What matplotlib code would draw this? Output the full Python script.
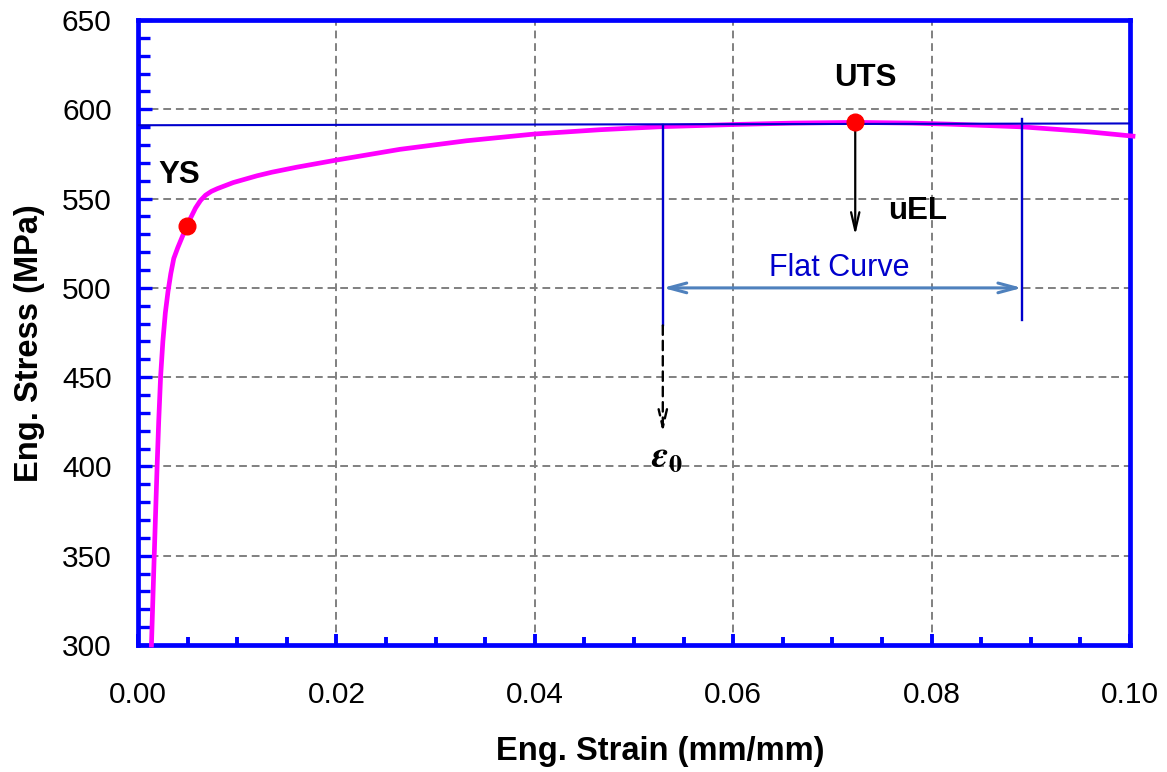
import matplotlib.pyplot as plt
from matplotlib.ticker import MultipleLocator

plt.rcParams['font.family'] = ['Liberation Sans', 'DejaVu Sans']
plt.rcParams['mathtext.fontset'] = 'stix'

# engineering stress-strain curve
STRAIN = [0.00135, 0.00163, 0.00192, 0.00208, 0.00227, 0.00250, 0.00275,
          0.00302, 0.0033, 0.0036, 0.0040, 0.0045, 0.0049, 0.0053, 0.0058,
          0.0063, 0.0068, 0.0074, 0.0080, 0.0088, 0.0096, 0.0120, 0.0135,
          0.016, 0.020, 0.0264, 0.0331, 0.040, 0.0466, 0.0528, 0.060,
          0.066, 0.0723, 0.078, 0.0819, 0.0891, 0.0953, 0.1003]
STRESS = [300, 350, 400, 425, 450, 470, 486,
          498, 508, 516.5, 522.5, 529.2, 534.3, 539.2, 544.8,
          549.0, 551.9, 554.1, 555.6, 557.3, 559.0, 562.8, 564.8,
          567.6, 571.6, 577.6, 582.4, 586.2, 588.6, 590.3, 591.5,
          592.3, 592.7, 592.3, 591.7, 590.2, 587.7, 585.0]

YS = (0.0049, 534.7)
UTS = (0.0723, 592.8)
FLAT_LINE = ([0.0, 0.10], [591.1, 592.1])
EPS0 = 0.0529
FLAT_END = 0.0891
UEL_TIP = 529.5

BLUE = "#0000ff"
LINE_BLUE = "#0000cc"

fig = plt.figure(figsize=(11.67, 7.72), dpi=100)
ax = fig.add_axes([0.1183, 0.1645, 0.85, 0.8095])

ax.plot(STRAIN, STRESS, color="#ff00ff", lw=3.4, zorder=3, clip_on=False,
        solid_joinstyle="round")

# horizontal line at UTS level and the flat-region bounds
ax.plot(*FLAT_LINE, color=LINE_BLUE, lw=1.5, zorder=4)
ax.plot([EPS0, EPS0], [591.3, 479], color=LINE_BLUE, lw=1.7, zorder=4)
ax.plot([FLAT_END, FLAT_END], [594.6, 482], color=LINE_BLUE, lw=1.7, zorder=4)

# flat curve double arrow
ax.annotate("", xy=(FLAT_END, 500), xytext=(EPS0, 500),
            arrowprops=dict(arrowstyle="<->,head_length=1.3,head_width=0.35",
                            color="#4f81bd", lw=2.2, shrinkA=0, shrinkB=0),
            zorder=5)
ax.text(0.0707, 511, "Flat Curve", color=LINE_BLUE, fontsize=22,
        ha="center", va="center")

# uEL arrow
ax.annotate("", xy=(UTS[0], UEL_TIP), xytext=(UTS[0], UTS[1]),
            arrowprops=dict(arrowstyle="->,head_length=1.3,head_width=0.3",
                            color="black", lw=1.6, shrinkA=0, shrinkB=0),
            zorder=5)
ax.text(0.0756, 543, "uEL", fontsize=22.5, fontweight="bold", ha="left",
        va="center")

# epsilon_0 dashed arrow
ax.annotate("", xy=(EPS0, 419), xytext=(EPS0, 479),
            arrowprops=dict(arrowstyle="->,head_length=1.3,head_width=0.3",
                            color="black", lw=1.7, ls=(0, (4, 2.5)),
                            shrinkA=0, shrinkB=0),
            zorder=5)
ax.text(EPS0 + 0.0004, 405.5, r"$\mathbfit{\varepsilon}_\mathbf{0}$",
        fontsize=27, ha="center", va="center")

ax.plot(*YS, "o", color="#ff0000", ms=12, zorder=6)
ax.plot(*UTS, "o", color="#ff0000", ms=12, zorder=6)
ax.text(0.0042, 563.2, "YS", fontsize=22.5, fontweight="bold", ha="center",
        va="center")
ax.text(0.0733, 617.5, "UTS", fontsize=22.5, fontweight="bold", ha="center",
        va="center")

ax.set_xlim(0, 0.10)
ax.set_ylim(300, 650)
ax.xaxis.set_major_locator(MultipleLocator(0.02))
ax.xaxis.set_minor_locator(MultipleLocator(0.005))
ax.yaxis.set_major_locator(MultipleLocator(50))
ax.yaxis.set_minor_locator(MultipleLocator(10))
ax.xaxis.set_major_formatter(plt.FuncFormatter(lambda v, p: f"{v:.2f}"))

ax.grid(True, which="major", color="#808080", ls=(0, (4, 2.5)), lw=1.4)
ax.set_axisbelow(True)
for s in ax.spines.values():
    s.set_color(BLUE)
    s.set_linewidth(3.4)

ax.tick_params(which="both", direction="in", color=BLUE, top=False,
               right=False, labelsize=21.5)
ax.tick_params(axis="y", which="major", length=10, width=2.4, pad=19)
ax.tick_params(axis="y", which="minor", length=8.6, width=2.4)
ax.tick_params(axis="x", which="major", length=8, width=2.8, pad=26)
ax.tick_params(axis="x", which="minor", length=6, width=2.8)

fig.text(0.5656, 0.027, "Eng. Strain (mm/mm)", fontsize=23.5,
         fontweight="bold", ha="center", va="center")
fig.text(0.0257, 0.5557, "Eng. Stress (MPa)", fontsize=23.5,
         fontweight="bold", ha="center", va="center", rotation=90)

fig.savefig("out.png", dpi=100)
